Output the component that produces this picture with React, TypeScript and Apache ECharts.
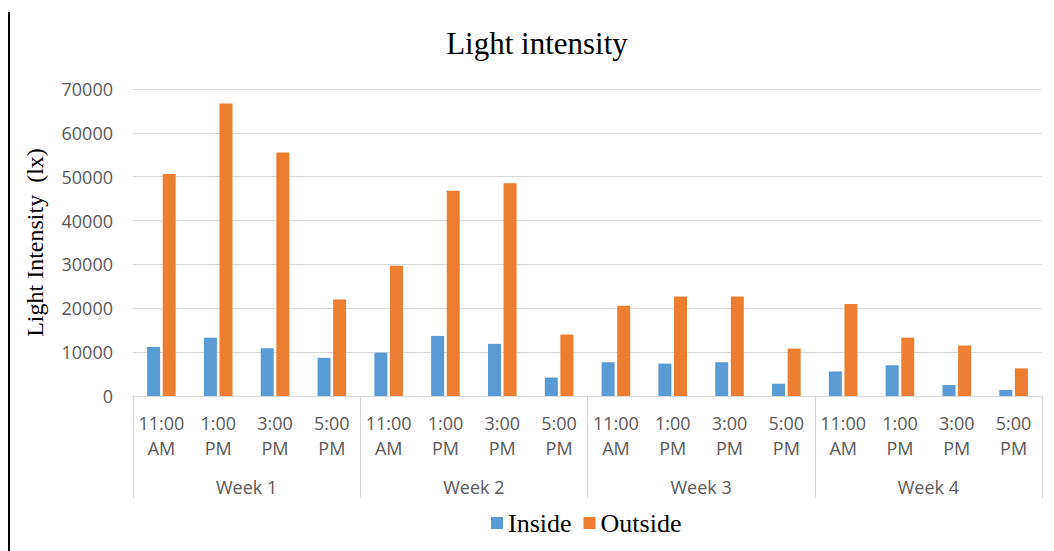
import React, { useEffect, useRef } from "react";
import * as echarts from "echarts";

const timeLabels = [
  "11:00\nAM", "1:00\nPM", "3:00\nPM", "5:00\nPM",
  "11:00\nAM", "1:00\nPM", "3:00\nPM", "5:00\nPM",
  "11:00\nAM", "1:00\nPM", "3:00\nPM", "5:00\nPM",
  "11:00\nAM", "1:00\nPM", "3:00\nPM", "5:00\nPM",
];
const weeks = ["Week 1", "Week 2", "Week 3", "Week 4"];
const insideValues = [
  11200, 13300, 10900, 8700,
  9900, 13700, 11900, 4200,
  7700, 7400, 7700, 2800,
  5600, 7000, 2500, 1400,
];
const outsideValues = [
  50600, 66700, 55500, 22000,
  29700, 46800, 48500, 14000,
  20600, 22700, 22700, 10800,
  21000, 13300, 11500, 6300,
];
const yTicks = { min: 0, max: 70000, interval: 10000 };

export default function App() {
  const ref = useRef<HTMLDivElement>(null);
  useEffect(() => {
    document.body.style.margin = "0";
    if (!ref.current) return;
    const chart = echarts.init(ref.current, undefined, { renderer: "svg" });
    const sans = "Open Sans";
    const serif = "Liberation Serif";
    chart.setOption({
      animation: false,
      backgroundColor: "#ffffff",
      title: {
        text: "Light intensity",
        left: 532,
        textAlign: "center",
        top: 23,
        textStyle: { fontFamily: serif, fontSize: 31, fontWeight: "normal", color: "#000000" },
      },
      legend: {
        data: ["Inside", "Outside"],
        left: 486,
        top: 505,
        itemWidth: 12,
        itemHeight: 12,
        itemGap: 12,
        icon: "rect",
        textStyle: { fontFamily: serif, fontSize: 26, color: "#000000" },
      },
      graphic: [
        { type: "rect", left: 8, top: 12, shape: { width: 2, height: 539 }, style: { fill: "#000000" } },
      ],
      grid: { left: 133, right: 12, top: 89, bottom: 155, containLabel: false },
      xAxis: [
        {
          type: "category",
          data: timeLabels,
          position: "bottom",
          axisLine: { show: true, lineStyle: { color: "#d9d9d9", width: 1 } },
          axisTick: { show: false },
          axisLabel: {
            interval: 0,
            margin: 14,
            fontFamily: sans,
            fontSize: 18,
            lineHeight: 25,
            color: "#595959",
          },
        },
        {
          type: "category",
          data: weeks,
          position: "bottom",
          gridIndex: 0,
          axisLine: { show: false },
          axisTick: { show: true, interval: 0, length: 102, lineStyle: { color: "#d9d9d9", width: 1 } },
          axisLabel: {
            interval: 0,
            margin: 81,
            fontFamily: sans,
            fontSize: 18,
            lineHeight: 20,
            color: "#595959",
          },
        },
      ],
      yAxis: {
        type: "value",
        min: yTicks.min,
        max: yTicks.max,
        interval: yTicks.interval,
        name: "Light Intensity  (lx)",
        nameLocation: "middle",
        nameGap: 86,
        nameTextStyle: { fontFamily: serif, fontSize: 24, color: "#000000" },
        axisLine: { show: false },
        axisTick: { show: false },
        splitLine: { lineStyle: { color: "#d9d9d9", width: 1 } },
        axisLabel: {
          margin: 20,
          fontFamily: sans,
          fontSize: 18,
          color: "#595959",
          formatter: (v: number) => String(v),
        },
      },
      series: [
        {
          name: "Inside",
          type: "bar",
          xAxisIndex: 0,
          data: insideValues,
          barWidth: 13,
          barGap: "20%",
          itemStyle: { color: "#5b9bd5" },
        },
        {
          name: "Outside",
          type: "bar",
          xAxisIndex: 0,
          data: outsideValues,
          barWidth: 13,
          barGap: "20%",
          itemStyle: { color: "#ed7d31" },
        },
      ],
    });
    return () => chart.dispose();
  }, []);
  return <div ref={ref} style={{ width: 1054, height: 551 }} />;
}
